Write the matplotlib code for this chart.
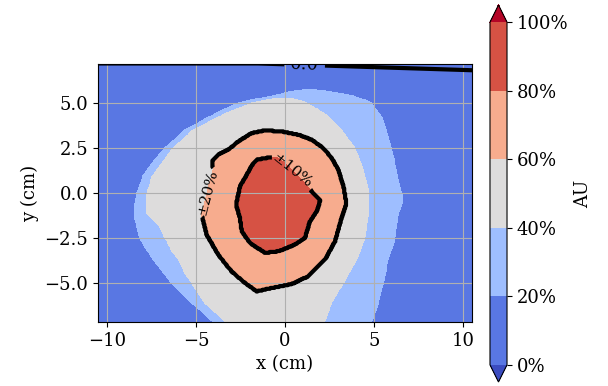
import numpy as np
import matplotlib
matplotlib.use("Agg")
import matplotlib.pyplot as plt
from matplotlib.path import Path

plt.rcParams['font.family'] = 'serif'
plt.rcParams['font.size'] = 13

# isodose outlines in cm (20 %, 40 %, 60 %, 80 %)
outline_20_x = [-2.64, -1.5, -0.58, 0.17, 1.0, 1.9, 3.0, 3.75, 4.4, 4.87, 5.43, 5.8, 6.18, 6.45, 6.65,
                6.37, 6.18, 5.8, 5.52, 5.24, 4.9, 4.7, -3.5, -4.1, -5.26, -6.38, -7.42, -8.17, -8.48,
                -8.3, -7.95, -7.5, -6.76, -5.64, -3.95]
outline_20_y = [5.0, 5.25, 5.42, 5.6, 5.72, 5.7, 5.55, 5.42, 5.2, 5.0, 4.22, 3.11, 1.63, 0.3, -0.4,
                -1.1, -2.5, -3.69, -5.0, -6.1, -7.1, -8.0, -8.0, -7.1, -6.1, -5.0, -3.69, -2.5, -1.1,
                0.05, 1.0, 1.63, 2.5, 3.48, 4.4]

outline_40_x = [-1.89, -0.8, 0.17, 1.12, 2.25, 3.18, 3.93, 4.4, 4.7, 4.68, 4.49, 4.03, 3.28, 2.62,
                2.25, 2.0, -3.2, -3.4, -4.51, -5.26, -5.7, -6.0, -6.3, -6.57, -6.8, -7.04, -7.5,
                -7.79, -7.75, -7.45, -6.95, -6.3, -5.17, -3.39]
outline_40_y = [5.0, 5.2, 5.3, 5.05, 4.4, 3.48, 2.5, 1.26, 0.05, -1.1, -2.5, -3.69, -5.0, -6.1,
                -7.1, -8.0, -8.0, -7.1, -6.1, -5.0, -4.3, -3.69, -3.3, -2.76, -2.4, -1.83, -1.4,
                -1.1, 0.0, 0.9, 1.63, 2.5, 3.48, 4.4]

outline_60_x = [-4.1, -3.75, -3.18, -2.62, -1.87, -1.12, -0.19, 0.75, 1.5, 2.15, 2.62, 3.0, 3.28,
                3.45, 3.18, 2.81, 2.25, 1.31, 0.37, -0.75, -1.59, -2.25, -3.0, -3.75, -4.4, -4.68,
                -4.35, -4.03]
outline_60_y = [1.8, 2.13, 2.41, 2.87, 3.33, 3.48, 3.42, 3.24, 2.96, 2.5, 1.94, 1.29, 0.37,
                -0.6, -1.39, -2.69, -3.7, -4.63, -5.06, -5.28, -5.47, -5.0, -4.36, -3.43, -2.32,
                -1.2, 0.1, 1.29]

outline_80_x = [-1.59, -1.12, -0.47, 0.4, 1.0, 1.5, 1.97, 1.87, 1.78, 1.4, 1.12, 0.56, -0.37,
                -1.12, -1.97, -2.43, -2.53, -2.75, -2.53, -2.15, -1.78]
outline_80_y = [1.85, 1.94, 2.0, 1.3, 0.7, 0.09, -0.37, -0.8, -1.02, -1.58, -2.5, -2.87, -3.24,
                -3.33, -2.78, -2.13, -1.39, -0.65, 0.37, 1.02, 1.67]

# zero line of the difference map near the top edge
zero_line_x = [-1.5, 10.6]
zero_line_y = [7.2, 6.82]

levels = [0, 20, 40, 60, 80, 100]
cbar_labels = ['0%', '20%', '40%', '60%', '80%', '100%']
line_levels = [60, 80]
line_fmt = {60: '±20%', 80: '±10%'}

# sample the outlines on a regular grid
x = np.linspace(-11, 11, 441)
y = np.linspace(-8, 8, 321)
X, Y = np.meshgrid(x, y)
pts = np.column_stack([X.ravel(), Y.ravel()])

dose = np.full(X.shape, 10.0)
for ox, oy in [(outline_20_x, outline_20_y), (outline_40_x, outline_40_y),
               (outline_60_x, outline_60_y), (outline_80_x, outline_80_y)]:
    inside = Path(np.column_stack([ox, oy])).contains_points(pts).reshape(X.shape)
    dose += 20 * inside

diff = Y - np.interp(X, zero_line_x, zero_line_y)

fig = plt.figure(figsize=(6.08, 3.86), dpi=100)
ax = fig.add_axes([0.1612, 0.1658, 0.6151, 0.6684])
cax = fig.add_axes([0.8059, 0.0104, 0.028, 0.9767])

cs = ax.contourf(X, Y, dose, levels=levels, cmap='coolwarm', extend='both')
cl = ax.contour(X, Y, dose, levels=line_levels, colors='k', linewidths=3)
ax.clabel(cl, fmt=line_fmt, fontsize=11, inline=True, inline_spacing=1,
          manual=[(-4.45, 0.05), (0.42, 1.24)])

zl = ax.contour(X, Y, diff, levels=[0], colors='k', linewidths=3)
ax.clabel(zl, fmt='%1.1f', fontsize=13, inline=True, manual=[(1.1, 7.1)])

ax.set_xlim(-10.5, 10.5)
ax.set_ylim(-7.17, 7.17)
ax.set_xticks([-10, -5, 0, 5, 10])
ax.set_yticks([-5, -2.5, 0, 2.5, 5])
ax.set_xlabel('x (cm)')
ax.set_ylabel('y (cm)')
ax.grid(True)

cb = fig.colorbar(cs, cax=cax, ticks=levels)
cb.ax.set_yticklabels(cbar_labels)
cb.set_label('AU')

fig.savefig('out.png', dpi=100)
